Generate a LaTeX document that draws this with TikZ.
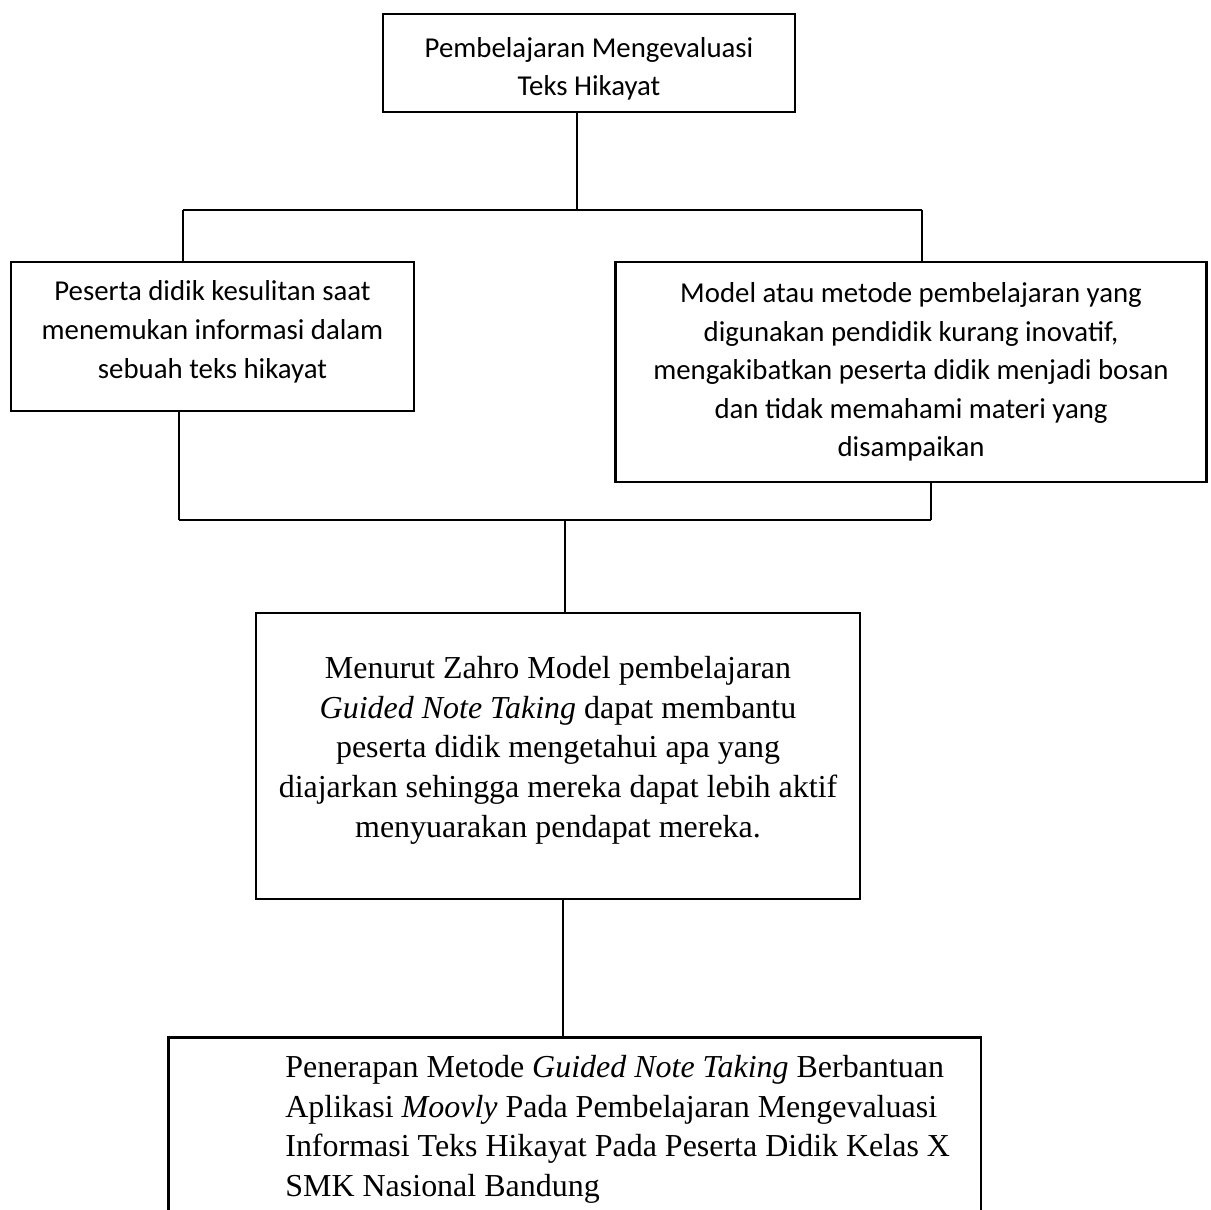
\documentclass[tikz,border=0pt]{standalone}
\usepackage{fontspec}
\setmainfont{Liberation Serif}
\newfontfamily\calibri{Carlito}

\begin{document}
\begin{tikzpicture}[x=0.02cm, y=-0.02cm,
		kotak/.style={draw, line width=1.5pt, inner sep=0pt, align=center},
		sans/.style={font=\calibri\fontsize{16.4}{22}\selectfont},
		serif/.style={font=\fontsize{18.2}{22.6}\selectfont},
		garis/.style={line width=0.6pt}]
		\useasboundingbox (0,0) rectangle (1211,1210);

		% kotak-kotak
		\node[kotak, sans, minimum width=8.24cm, minimum height=1.96cm] (judul) at (589,63) {\rule{0pt}{18pt}Pembelajaran Mengevaluasi\\Teks Hikayat};
		\node[kotak, sans, minimum width=8.06cm, minimum height=2.98cm] (masalah1) at (212.5,336.5) {Peserta didik kesulitan saat\\menemukan informasi dalam\\sebuah teks hikayat\\[-14pt]};
		\node[kotak, sans, minimum width=11.82cm, minimum height=4.4cm] (masalah2) at (911,372) {Model atau metode pembelajaran yang\\digunakan pendidik kurang inovatif,\\mengakibatkan peserta didik menjadi bosan\\dan tidak memahami materi yang\\disampaikan};
		\node[kotak, serif, minimum width=12.08cm, minimum height=5.72cm] (teori) at (558,756) {Menurut Zahro Model pembelajaran\\\textit{Guided Note Taking} dapat membantu\\peserta didik mengetahui apa yang\\diajarkan sehingga mereka dapat lebih aktif\\menyuarakan pendapat mereka.\\[-12pt]};
		\node[kotak, anchor=north west, minimum width=16.26cm, minimum height=5cm] (solusi) at (167,1036) {};
		\node[serif, anchor=north west, inner sep=0pt, align=left] (solusiteks) at (285,1055) {Penerapan Metode \textit{Guided Note Taking} Berbantuan\\Aplikasi \textit{Moovly} Pada Pembelajaran Mengevaluasi\\Informasi Teks Hikayat Pada Peserta Didik Kelas X\\SMK Nasional Bandung};

		% titik cabang
		\coordinate (jA) at (577,210);
		\coordinate (kiriA) at (183,210);
		\coordinate (kananA) at (922,210);
		\coordinate (kiriB) at (179,520);
		\coordinate (kananB) at (931,520);
		\coordinate (jB) at (565,520);
		\coordinate (jC) at (563,900);

		\draw[garis] (jA |- judul.south) -- (jA);
		\draw[garis] (kiriA) -- (kananA);
		\draw[garis] (kiriA) -- (kiriA |- masalah1.north);
		\draw[garis] (kananA) -- (kananA |- masalah2.north);

		\draw[garis] (kiriB |- masalah1.south) -- (kiriB);
		\draw[garis] (kananB |- masalah2.south) -- (kananB);
		\draw[garis] (kiriB) -- (kananB);
		\draw[garis] (jB) -- (jB |- teori.north);

		\draw[garis] (jC |- teori.south) -- (jC |- solusi.north);
	\end{tikzpicture}
\end{document}
